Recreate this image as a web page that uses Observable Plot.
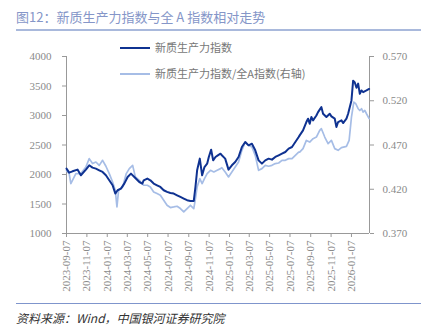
<!DOCTYPE html>
<html>
<head>
<meta charset="utf-8">
<script src="https://cdn.jsdelivr.net/npm/d3@7"></script>
<script src="https://cdn.jsdelivr.net/npm/@observablehq/plot@0.6"></script>
<style>
  body { margin: 0; background: #fff; }
  #wrap { position: relative; width: 425px; height: 334px; overflow: hidden; font-family: "Noto Sans CJK SC", sans-serif; }
  #chart { position: absolute; left: 0; top: 0; }
  #chart svg text { fill: #8a8a8a; }
  .title { position: absolute; left: 16px; top: 8px; font-size: 13px; color: #8596c8; white-space: nowrap; line-height: 18px; }
  .hr1 { position: absolute; left: 16px; top: 29px; width: 405px; height: 2px; background: #a9b9dc; }
  .hr2 { position: absolute; left: 16px; top: 303px; width: 405px; height: 1px; background: #7f95cc; }
  .foot { position: absolute; left: 16px; top: 309px; font-size: 12px; font-style: italic; color: #333; white-space: nowrap; line-height: 18px; }
  .leg { position: absolute; left: 120px; font-size: 11px; color: #777; white-space: nowrap; line-height: 14px; }
  .leg span.sw { display: inline-block; width: 30px; height: 2px; vertical-align: middle; margin-right: 5px; position: relative; top: -1px; }
</style>
</head>
<body>
<div id="wrap">
  <div id="chart"></div>
  <div class="title">图12：新质生产力指数与全 A 指数相对走势</div>
  <div class="hr1"></div>
  <div class="leg" style="top:40px"><span class="sw" style="background:#0f3291"></span>新质生产力指数</div>
  <div class="leg" style="top:66px"><span class="sw" style="background:#a6bde6"></span>新质生产力指数/全A指数(右轴)</div>
  <div class="hr2"></div>
  <div class="foot">资料来源：Wind，中国银河证券研究院</div>
</div>
<script>
// 新质生产力指数 (left axis)
const idxDates = ["2023-09-07","2023-09-15","2023-09-25","2023-10-10","2023-10-20","2023-11-04","2023-11-14","2023-11-24","2023-12-04","2023-12-14","2023-12-24",
"2024-01-03","2024-01-13","2024-01-23","2024-01-31","2024-02-07","2024-02-17","2024-02-27","2024-03-08","2024-03-18","2024-03-28","2024-04-12","2024-04-21","2024-04-25",
"2024-05-06","2024-05-15","2024-05-25","2024-06-04","2024-06-14","2024-06-24","2024-07-04","2024-07-14","2024-07-24","2024-08-03","2024-08-13","2024-08-23",
"2024-09-02","2024-09-12","2024-09-22","2024-09-27","2024-10-02","2024-10-10","2024-10-17","2024-10-24","2024-11-01","2024-11-06","2024-11-13","2024-11-19","2024-11-26",
"2024-12-03","2024-12-11","2024-12-15","2024-12-25","2025-01-04","2025-01-14","2025-01-24","2025-02-03","2025-02-13","2025-02-23","2025-03-05","2025-03-15","2025-03-25",
"2025-04-04","2025-04-14","2025-04-24","2025-05-04","2025-05-14","2025-05-24","2025-06-03","2025-06-13","2025-06-23","2025-07-03","2025-07-13","2025-07-23",
"2025-08-02","2025-08-05","2025-08-15","2025-08-25","2025-08-30","2025-09-04","2025-09-09","2025-09-14","2025-09-24","2025-09-29","2025-10-09","2025-10-14","2025-10-24",
"2025-11-03","2025-11-08","2025-11-18","2025-11-23","2025-11-28","2025-12-08","2025-12-13","2025-12-23","2025-12-28","2026-01-07","2026-01-12","2026-01-17","2026-01-22",
"2026-01-27","2026-02-01","2026-02-06","2026-02-11","2026-02-21","2026-03-01"];
const idxValues = [2100,2032,2054,2083,1987,2083,2156,2117,2100,2071,2043,
1987,1902,1817,1677,1733,1761,1846,1958,2015,1958,1873,1846,1902,
1931,1902,1846,1817,1789,1733,1705,1687,1677,1648,1620,1592,
1564,1552,1552,1789,2071,2269,1987,2127,2184,2297,2421,2240,2297,
2325,2353,2325,2269,2083,2156,2212,2297,2466,2550,2494,2522,2410,
2240,2184,2240,2269,2252,2297,2325,2353,2381,2438,2466,2550,
2635,2663,2748,2889,2946,2861,2974,2917,3001,3058,3142,3030,2974,
3030,2985,2946,2805,2889,2917,2872,2946,3030,3255,3590,3560,3470,
3540,3368,3425,3396,3425,3450];

// 新质生产力指数/全A指数 (right axis)
const ratioDates = ["2023-09-07","2023-09-15","2023-09-20","2023-10-05","2023-10-20","2023-11-04","2023-11-14","2023-11-24","2023-12-04","2023-12-14","2023-12-24",
"2024-01-03","2024-01-13","2024-01-23","2024-01-31","2024-02-05","2024-02-10","2024-02-22","2024-03-04","2024-03-13","2024-03-23","2024-03-31","2024-04-12","2024-04-21",
"2024-04-25","2024-05-06","2024-05-15","2024-05-25","2024-06-04","2024-06-14","2024-06-24","2024-07-04","2024-07-14","2024-07-24","2024-08-03","2024-08-13","2024-08-23",
"2024-09-02","2024-09-12","2024-09-22","2024-09-27","2024-10-02","2024-10-10","2024-10-17","2024-10-24","2024-11-01","2024-11-11","2024-11-21","2024-12-01","2024-12-11",
"2024-12-15","2024-12-25","2025-01-04","2025-01-14","2025-01-24","2025-02-03","2025-02-13","2025-02-23","2025-03-05","2025-03-15","2025-03-25","2025-04-04","2025-04-14",
"2025-04-24","2025-05-04","2025-05-14","2025-05-24","2025-06-03","2025-06-13","2025-06-23","2025-07-03","2025-07-13","2025-07-23","2025-08-02","2025-08-05","2025-08-15",
"2025-08-25","2025-09-04","2025-09-14","2025-09-24","2025-10-04","2025-10-09","2025-10-19","2025-10-29","2025-11-08","2025-11-18","2025-11-28","2025-12-08","2025-12-23",
"2025-12-31","2026-01-07","2026-01-14","2026-01-20","2026-01-27","2026-02-01","2026-02-06","2026-02-11","2026-02-16","2026-02-21","2026-03-01"];
const ratioValues = [0.441,0.4377,0.4264,0.4377,0.4377,0.4451,0.4546,0.449,0.4508,0.447,0.4527,
0.446,0.4377,0.4282,0.4189,0.400,0.419,0.4226,0.4377,0.4433,0.447,0.434,0.430,0.426,
0.4245,0.4245,0.4226,0.417,0.4151,0.4132,0.4076,0.4019,0.3993,0.400,0.4008,0.3982,0.3944,
0.3982,0.4019,0.3982,0.4095,0.4226,0.432,0.4264,0.432,0.4377,0.4414,0.4395,0.4414,0.4433,
0.4444,0.4395,0.4339,0.4395,0.4451,0.4508,0.464,0.4733,0.4696,0.4677,0.4583,0.4414,0.4433,
0.447,0.446,0.447,0.449,0.4497,0.4527,0.4527,0.4546,0.4546,0.4583,0.462,0.462,0.4659,
0.4752,0.4733,0.4771,0.479,0.4865,0.4884,0.479,0.4715,0.4752,0.4659,0.464,0.467,0.4685,
0.4752,0.5015,0.5184,0.5166,0.511,0.509,0.511,0.5072,0.509,0.5053,0.4997];

const xTicks = ["2023-09-07","2023-11-07","2024-01-07","2024-03-07","2024-05-07","2024-07-07","2024-09-07","2024-11-07","2025-01-07","2025-03-07","2025-05-07","2025-07-07","2025-09-07","2025-11-07","2026-01-07"];
const leftTicks = [1000,1500,2000,2500,3000,3500,4000];
const rightTicks = [0.370,0.420,0.470,0.520,0.570];
const xStart = "2023-09-07", xEnd = "2026-03-02";
const leftDomain = [1000, 4000];
const rightDomain = [0.370, 0.570];

const parse = d3.utcParse("%Y-%m-%d");
const toLeft = r => leftDomain[0] + (r - rightDomain[0]) / (rightDomain[1] - rightDomain[0]) * (leftDomain[1] - leftDomain[0]);
const fromLeft = v => rightDomain[0] + (v - leftDomain[0]) / (leftDomain[1] - leftDomain[0]) * (rightDomain[1] - rightDomain[0]);

const idx = idxDates.map((d, i) => ({date: parse(d), v: idxValues[i]}));
const ratio = ratioDates.map((d, i) => ({date: parse(d), v: toLeft(ratioValues[i])}));

const x0 = parse(xStart), x1 = parse(xEnd);

const chart = Plot.plot({
  width: 425,
  height: 334,
  marginLeft: 66,
  marginRight: 56,
  marginTop: 56,
  marginBottom: 101,
  style: {fontFamily: "'Liberation Serif', serif", fontSize: "11px", background: "transparent"},
  x: {type: "utc", domain: [x0, x1]},
  y: {domain: leftDomain},
  marks: [
    Plot.ruleX([x0], {stroke: "#999", strokeWidth: 1}),
    Plot.ruleX([x1], {stroke: "#999", strokeWidth: 1}),
    Plot.ruleY([leftDomain[0]], {stroke: "#999", strokeWidth: 1}),
    Plot.axisY({anchor: "left", ticks: leftTicks, tickFormat: d => String(d), tickSize: 4, tickPadding: 11, stroke: "#999", label: null}),
    Plot.axisY({anchor: "right", ticks: rightTicks.map(toLeft), tickFormat: v => fromLeft(v).toFixed(3), tickSize: 4, tickPadding: 9, stroke: "#999", label: null}),
    Plot.axisX({ticks: xTicks.map(parse), tickFormat: d3.utcFormat("%Y-%m-%d"), tickSize: 4, tickPadding: 3, tickRotate: -90, stroke: "#999", label: null}),
    Plot.line(ratio, {x: "date", y: "v", stroke: "#a6bde6", strokeWidth: 1.7}),
    Plot.line(idx, {x: "date", y: "v", stroke: "#0f3291", strokeWidth: 2})
  ]
});
document.getElementById("chart").appendChild(chart);
</script>
</body>
</html>
